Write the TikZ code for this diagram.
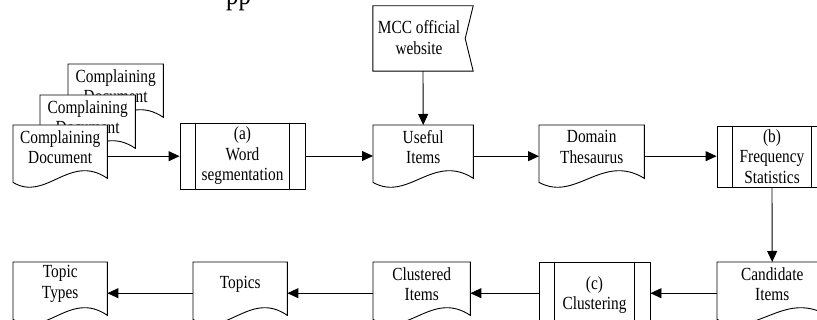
\documentclass[tikz,border=0pt]{standalone}
\usepackage{fontspec}
\setmainfont[FakeStretch=0.83]{Liberation Serif}
\usetikzlibrary{arrows.meta,calc}

\tikzset{
  outline/.style={draw=black, line width=0.9pt, fill=white},
  rule/.style={draw=black, line width=0.9pt},
  docframe/.style={inner sep=0pt, minimum height=62pt},
  caption text/.style={font=\fontsize{18.5}{20.5}\selectfont, align=center, inner sep=0pt},
  procbox/.style={outline, caption text},
  flow/.style={rule, -{Triangle[length=11pt,width=10pt]}},
}

% document symbol: name, left x, top y, width, text
\newcommand\docitem[5]{%
  \node[docframe, minimum width=#4pt, anchor=north west] (#1) at (#2,#3) {};
  \path[outline] (#1.north west) -- (#1.north east) -- ([yshift=9pt]#1.south east)
    .. controls ($(#1.south west)!0.6!(#1.south east)+(0,35)$)
       and ($(#1.south west)!0.35!(#1.south east)+(0,-15)$) .. ([yshift=5pt]#1.south west) -- cycle;
  \node[caption text] (#1-text) at ([yshift=-22pt]#1.north) {#5};
}

% predefined process symbol: name, centre x, centre y, width, height, text
\newcommand\procitem[6]{%
  \node[procbox, minimum width=#4pt, minimum height=#5pt] (#1) at (#2,#3) {#6};
  \draw[rule] ([xshift=16pt]#1.north west) -- ([xshift=16pt]#1.south west)
    ([xshift=-16pt]#1.north east) -- ([xshift=-16pt]#1.south east);
}

\begin{document}
\begin{tikzpicture}[x=1pt,y=1pt]
\useasboundingbox (0,0) rectangle (817,320);

% heading line above the chart, running off the top edge
\node[font=\fontsize{30}{30}\selectfont, anchor=base west, inner sep=0pt] (heading) at (226,315) {pp};

% stack of source documents
\docitem{cd3}{68}{256}{95}{Complaining\\Document}
\docitem{cd2}{40}{225}{95}{Complaining\\Document}
\docitem{cd1}{13}{195}{94}{Complaining\\Document}

% first row
\procitem{wordseg}{242.5}{164}{125}{66}{(a)\\Word\\segmentation}
\docitem{useful}{373}{195}{100}{Useful\\Items}
\docitem{domain}{539}{195}{105}{Domain\\Thesaurus}
\procitem{freq}{772}{163.5}{110}{61}{(b)\\Frequency\\Statistics}

% web source
\node[inner sep=0pt, minimum width=100pt, minimum height=65pt] (mcc) at (423,281.5) {};
\path[outline] (mcc.north west) -- (mcc.north east) -- ([xshift=-8pt]mcc.east)
  -- (mcc.south east) -- (mcc.south west) -- cycle;
\node[caption text] (mcc-text) at (419,282.5) {MCC official\\website};

% second row
\docitem{candidate}{717}{58}{110}{Candidate\\Items}
\procitem{clustering}{594.5}{25}{111}{66}{(c)\\Clustering}
\docitem{clustered}{373}{58}{97}{Clustered\\Items}
\docitem{topics}{193}{58}{94}{Topics}
\docitem{types}{13}{58}{94}{Topic\\Types}

% connectors
\draw[flow] (cd1.east) -- (wordseg.west |- cd1.east);
\draw[flow] (wordseg.east) -- (useful.west |- wordseg.east);
\draw[flow] (mcc.south) -- (useful.north);
\draw[flow] (useful.east) -- (domain.west);
\draw[flow] (domain.east) -- (freq.west |- domain.east);
\draw[flow] (freq.south) -- (candidate.north);
\draw[flow] (candidate.west) -- (clustering.east |- candidate.west);
\draw[flow] (clustering.west |- clustered.east) -- (clustered.east);
\draw[flow] (clustered.west) -- (topics.east);
\draw[flow] (topics.west) -- (types.east);
\end{tikzpicture}
\end{document}
